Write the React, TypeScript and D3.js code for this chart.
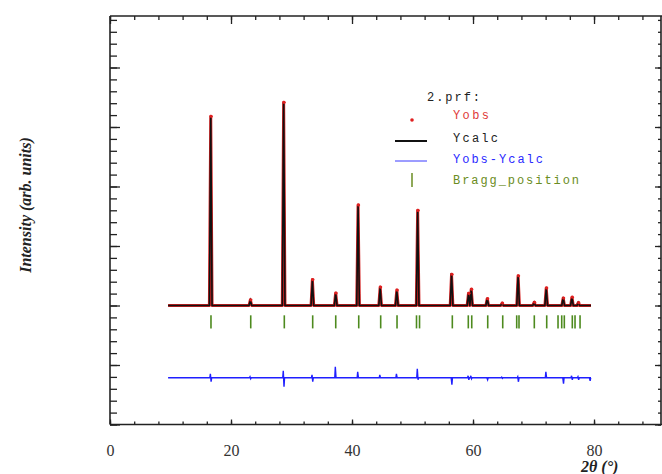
import React, { useEffect, useRef } from 'react';
import * as d3 from 'd3';

// scan range (2theta, degrees)
const scanStart = 9.6;
const scanEnd = 79.5;

// reflections: position and height (arb. counts)
const peakPos = [16.65, 23.2, 28.7, 33.45, 37.3, 41.0, 44.65, 47.4, 50.85, 56.45, 59.25, 59.7, 62.35, 64.8, 67.45, 70.1, 72.1, 74.9, 76.35, 77.4];
const calcHeight = [6350, 170, 6820, 840, 400, 3360, 600, 500, 3160, 1080, 400, 540, 235, 70, 1010, 100, 570, 270, 270, 100];
const obsHeight = [6360, 190, 6830, 870, 420, 3380, 620, 520, 3200, 1050, 410, 550, 230, 80, 1000, 110, 590, 250, 280, 95];

// Bragg positions (green ticks)
const braggPos = [16.69, 23.26, 28.81, 33.5, 37.31, 41.11, 44.74, 47.44, 50.66, 51.16, 56.58, 59.22, 59.79, 62.43, 64.91, 67.22, 67.6, 70.13, 72.18, 74.05, 74.66, 75.09, 76.41, 76.86, 77.69];

// difference curve blips: position, excursion up / down
const diffPos = [16.65, 23.2, 28.7, 33.45, 37.3, 41.0, 44.65, 47.4, 50.85, 56.45, 59.25, 59.7, 62.35, 64.8, 67.45, 70.1, 72.1, 74.9, 76.35, 77.4, 79.3];
const diffUp = [134, 34, 235, 100, 370, 200, 100, 134, 300, 0, 67, 67, 0, 20, 34, 0, 200, 0, 67, 34, 0];
const diffDown = [134, 34, 300, 134, 0, 0, 0, 0, 67, 235, 67, 34, 67, 20, 134, 0, 0, 200, 67, 67, 100];
const diffBase = -2430;

const xMajor = [0, 20, 40, 60, 80];
const legendItems = ['Yobs', 'Ycalc', 'Yobs-Ycalc', 'Bragg_position'];

const width = 662;
const height = 474;

const x = d3.scaleLinear().domain([0, 91.07]).range([110, 661]);
const y = d3.scaleLinear().domain([-4000, 9731]).range([424.5, 16]);

const profile = (heights: number[]) => {
  const pts: [number, number][] = [[scanStart, 0]];
  peakPos.forEach((p, i) => {
    pts.push([p - 0.22, 0], [p, heights[i]], [p + 0.22, 0]);
  });
  pts.push([scanEnd, 0]);
  return pts;
};

const diffPoints = () => {
  const pts: [number, number][] = [[scanStart, diffBase]];
  diffPos.forEach((p, i) => {
    pts.push([p - 0.15, diffBase], [p - 0.06, diffBase + diffUp[i]], [p + 0.06, diffBase - diffDown[i]], [p + 0.15, diffBase]);
  });
  pts.push([scanEnd, diffBase]);
  return pts;
};

const line = d3.line<[number, number]>().x(d => x(d[0])).y(d => y(d[1]));

export default function App() {
  const axRef = useRef<SVGGElement>(null);

  useEffect(() => {
    const g = d3.select(axRef.current);
    g.selectAll('*').remove();
    const noLabel = () => '';

    const draw = (axis: any, transform: string) => {
      const sel = g.append('g').attr('transform', transform).call(axis);
      sel.select('.domain').remove();
      sel.selectAll('line').attr('stroke', '#222').attr('stroke-width', 1.3);
      sel.selectAll('text')
        .attr('font-family', '"Liberation Serif", "Times New Roman", serif')
        .attr('font-size', 16)
        .attr('fill', '#333');
      return sel;
    };

    // bottom
    draw(d3.axisBottom(x).tickValues(d3.range(0, 92, 4)).tickSize(-3).tickFormat(noLabel), `translate(0,${y(-4000)})`);
    draw(d3.axisBottom(x).tickValues(xMajor).tickSize(-5).tickPadding(20).tickFormat(d3.format('d')), `translate(0,${y(-4000)})`);
    // top
    draw(d3.axisTop(x).tickValues(d3.range(0, 92, 4)).tickSize(-4).tickFormat(noLabel), `translate(0,${y.range()[1]})`);
    draw(d3.axisTop(x).tickValues(xMajor).tickSize(-8).tickFormat(noLabel), `translate(0,${y.range()[1]})`);
    // left
    draw(d3.axisLeft(y).tickValues(d3.range(-4000, 9731, 400)).tickSize(-7).tickFormat(noLabel), `translate(${x(0)},0)`);
    draw(d3.axisLeft(y).tickValues(d3.range(-4000, 9731, 2000)).tickSize(-10).tickFormat(noLabel), `translate(${x(0)},0)`);
    // right
    draw(d3.axisRight(y).tickValues(d3.range(-4000, 9731, 400)).tickSize(-3).tickFormat(noLabel), `translate(${x.range()[1]},0)`);
    draw(d3.axisRight(y).tickValues(d3.range(-4000, 9731, 2000)).tickSize(-6).tickFormat(noLabel), `translate(${x.range()[1]},0)`);
  }, []);

  const [x0, x1] = x.range();
  const [yb, yt] = y.range();
  const calc = profile(calcHeight);
  const obs = profile(obsHeight);

  const legendX = 453;
  const legendY = [119, 142, 163, 184];
  const legendColors = ['#e03a3a', '#222', '#2a2aff', '#6a8c22'];

  return (
    <svg width={width} height={height} style={{ position: 'absolute', left: 0, top: 0, background: '#fff' }}>
      {/* frame */}
      <g stroke="#222" strokeWidth={1.6} fill="none">
        <line x1={x0} y1={yt} x2={x0} y2={yb} />
        <line x1={x0} y1={yb} x2={width} y2={yb} />
        <line x1={x0} y1={yt} x2={width} y2={yt} />
        <line x1={x1} y1={yt} x2={x1} y2={yb} />
      </g>
      <g ref={axRef} />

      {/* difference curve */}
      <path d={line(diffPoints()) ?? ''} fill="none" stroke="#1f1fff" strokeWidth={1.4} />

      {/* bragg ticks */}
      <g stroke="#4d8a1e" strokeWidth={1.6}>
        {braggPos.map((p, i) => (
          <line key={i} x1={x(p)} x2={x(p)} y1={y(-330)} y2={y(-770)} />
        ))}
      </g>

      {/* observed (red) and calculated (black) */}
      <path d={line(obs) ?? ''} fill="none" stroke="#d42020" strokeWidth={3} strokeLinejoin="round" />
      <path d={line(calc) ?? ''} fill="none" stroke="#111" strokeWidth={1.6} />
      {obs.filter(d => d[1] > 0).map((d, i) => (
        <circle key={i} cx={x(d[0]) + 0.5} cy={y(d[1])} r={1.6} fill="#e02020" />
      ))}

      {/* legend */}
      <g fontFamily='"Liberation Mono", "Courier New", monospace' fontSize={12}>
        <text x={427} y={101} fill="#222" textLength={53} lengthAdjust="spacing">2.prf:</text>
        {legendItems.map((t, i) => (
          <text key={t} x={legendX} y={legendY[i]} fill={legendColors[i]} textLength={t.length * 9} lengthAdjust="spacing">{t}</text>
        ))}
        <circle cx={412} cy={120} r={1.8} fill="#e02020" />
        <line x1={395} x2={427} y1={141} y2={141} stroke="#111" strokeWidth={2} />
        <line x1={395} x2={427} y1={161} y2={161} stroke="#3a3aff" strokeWidth={1} />
        <line x1={412} x2={412} y1={173} y2={187} stroke="#6a8c22" strokeWidth={1.5} />
      </g>

      {/* axis titles */}
      <text
        transform="translate(31,205) rotate(-90)"
        textAnchor="middle"
        fontFamily='"Liberation Serif", "Times New Roman", serif'
        fontStyle="italic"
        fontWeight="bold"
        fontSize={16}
        fill="#222"
      >
        Intensity (arb. units)
      </text>
      <text
        x={581}
        y={472}
        fontFamily='"Liberation Serif", "Times New Roman", serif'
        fontStyle="italic"
        fontWeight="bold"
        fontSize={16}
        fill="#222"
      >
        2θ (°)
      </text>
    </svg>
  );
}
